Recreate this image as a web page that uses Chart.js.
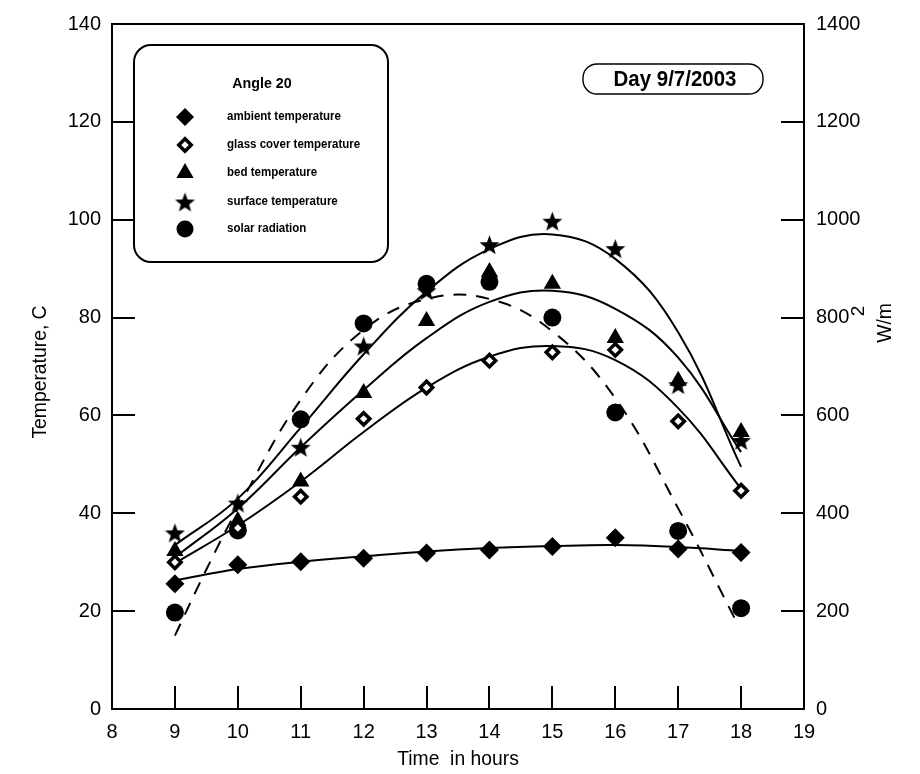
<!DOCTYPE html>
<html>
<head>
<meta charset="utf-8">
<title>Angle 20 - Day 9/7/2003</title>
<script src="https://cdn.jsdelivr.net/npm/chart.js@4.4.0/dist/chart.umd.min.js"></script>
<style>
  html, body { margin: 0; padding: 0; background: #fff; }
  #wrap { width: 920px; height: 774px; }
</style>
</head>
<body>
<div id="wrap"><canvas id="chart"></canvas></div>
<script>
// measured values (hour of day)
const hours = [9, 10, 11, 12, 13, 14, 15, 16, 17, 18];
const ambientTemp = [25.6, 29.5, 30.1, 30.8, 31.9, 32.5, 33.2, 35.0, 32.7, 32.0];
const glassTemp = [30.0, 37.0, 43.4, 59.3, 65.7, 71.2, 72.9, 73.4, 58.8, 44.6];
const bedTemp = [32.3, 38.4, 46.5, 64.6, 79.3, 89.3, 86.9, 75.8, 67.1, 56.6];
const surfaceTemp = [36.0, 42.1, 53.5, 74.2, 85.5, 94.9, 99.7, 94.1, 66.3, 54.9];
const solarRad = [197, 365, 592, 788, 869, 873, 800, 606, 364, 206];

// trend curves
const fitHours = [9, 10, 11, 12, 13, 14, 15, 16, 17, 18];
const ambientFit = [26.3, 28.6, 30.1, 31.2, 32.2, 32.9, 33.3, 33.5, 33.1, 32.3];
const glassFit = [29.8, 37.5, 46.5, 56.6, 65.7, 72.0, 74.2, 71.3, 61.5, 45.0];
const bedFit = [31.0, 41.0, 53.5, 65.2, 75.8, 83.2, 85.5, 81.8, 71.8, 52.5];
const surfaceFit = [33.5, 43.0, 57.5, 72.5, 85.3, 94.0, 97.0, 92.0, 77.0, 49.5];
const solarFitHours = [9, 9.5, 10, 11, 12, 13, 14, 15, 16, 17, 17.92];
const solarFit = [150, 285, 410, 632, 775, 838, 838, 772, 635, 410, 180];

// axis ticks
const hourTicks = [8, 9, 10, 11, 12, 13, 14, 15, 16, 17, 18, 19];
const tempTicks = [0, 20, 40, 60, 80, 100, 120, 140];
const radTicks = [0, 200, 400, 600, 800, 1000, 1200, 1400];

const FONT = "'Liberation Sans', Arial, Helvetica, sans-serif";
const TICK_LEN = 23;

const toPoints = (xs, ys) => xs.map((h, i) => ({ x: h, y: ys[i] }));

// filled five-point star used as a point style
function makeStar(size) {
    const c = document.createElement('canvas');
    c.width = c.height = size;
    const g = c.getContext('2d');
    const cx = size / 2, cy = size / 2 + size * 0.05;
    const R = size / 2, r = R * 0.42;
    g.beginPath();
    for (let i = 0; i < 10; i++) {
        const a = -Math.PI / 2 + i * Math.PI / 5;
        const rad = i % 2 ? r : R;
        g.lineTo(cx + rad * Math.cos(a), cy + rad * Math.sin(a));
    }
    g.closePath();
    g.fillStyle = '#000';
    g.fill();
    return c;
}
const starImg = makeStar(21);

function markerSet(label, values, style, extra) {
    return Object.assign({
        label: label,
        data: toPoints(hours, values),
        yAxisID: 'y',
        showLine: false,
        pointStyle: style,
        backgroundColor: '#000',
        borderColor: '#000',
        borderWidth: 0,
        order: 0
    }, extra);
}

function fitSet(xs, ys, extra) {
    return Object.assign({
        data: toPoints(xs, ys),
        yAxisID: 'y',
        showLine: true,
        pointRadius: 0,
        borderColor: '#000',
        borderWidth: 2,
        tension: 0.4,
        fill: false,
        order: 1
    }, extra);
}

// legend entries drawn inside the rounded box
const legendItems = [
    { text: 'ambient temperature', shape: 'diamond' },
    { text: 'glass cover temperature', shape: 'openDiamond' },
    { text: 'bed temperature', shape: 'triangle' },
    { text: 'surface temperature', shape: 'star' },
    { text: 'solar radiation', shape: 'circle' }
];

function drawMarker(ctx, shape, x, y) {
    ctx.save();
    ctx.fillStyle = '#000';
    ctx.strokeStyle = '#000';
    ctx.beginPath();
    if (shape === 'diamond') {
        const r = 9;
        ctx.moveTo(x, y - r); ctx.lineTo(x + r, y); ctx.lineTo(x, y + r); ctx.lineTo(x - r, y);
        ctx.closePath(); ctx.fill();
    } else if (shape === 'openDiamond') {
        const r = 6.2;
        ctx.moveTo(x, y - r); ctx.lineTo(x + r, y); ctx.lineTo(x, y + r); ctx.lineTo(x - r, y);
        ctx.closePath();
        ctx.fillStyle = '#fff'; ctx.fill();
        ctx.lineWidth = 3.5; ctx.stroke();
    } else if (shape === 'triangle') {
        const r = 10;
        ctx.moveTo(x, y - r);
        ctx.lineTo(x + r * 0.866, y + r / 2);
        ctx.lineTo(x - r * 0.866, y + r / 2);
        ctx.closePath(); ctx.fill();
    } else if (shape === 'star') {
        ctx.drawImage(starImg, x - starImg.width / 2, y - starImg.height / 2);
    } else {
        ctx.arc(x, y, 8.5, 0, Math.PI * 2); ctx.fill();
    }
    ctx.restore();
}

function roundRect(ctx, x, y, w, h, r) {
    ctx.beginPath();
    ctx.moveTo(x + r, y);
    ctx.lineTo(x + w - r, y);
    ctx.arcTo(x + w, y, x + w, y + r, r);
    ctx.lineTo(x + w, y + h - r);
    ctx.arcTo(x + w, y + h, x + w - r, y + h, r);
    ctx.lineTo(x + r, y + h);
    ctx.arcTo(x, y + h, x, y + h - r, r);
    ctx.lineTo(x, y + r);
    ctx.arcTo(x, y, x + r, y, r);
    ctx.closePath();
}

function narrowText(ctx, text, x, y, sx) {
    ctx.save();
    ctx.translate(x, y);
    ctx.scale(sx, 1);
    ctx.fillText(text, 0, 0);
    ctx.restore();
}

const frameAndNotes = {
    id: 'frameAndNotes',
    afterDraw(chart) {
        const ctx = chart.ctx;
        const { left, right, top, bottom } = chart.chartArea;
        const xs = chart.scales.x, ys = chart.scales.y, ys2 = chart.scales.y2;
        ctx.save();

        // frame and inward tick marks
        ctx.strokeStyle = '#000';
        ctx.lineWidth = 2;
        ctx.strokeRect(left, top, right - left, bottom - top);
        ctx.beginPath();
        hourTicks.forEach(v => {
            const px = Math.round(xs.getPixelForValue(v));
            ctx.moveTo(px, bottom); ctx.lineTo(px, bottom - TICK_LEN);
        });
        tempTicks.forEach(v => {
            const py = Math.round(ys.getPixelForValue(v));
            ctx.moveTo(left, py); ctx.lineTo(left + TICK_LEN, py);
        });
        radTicks.forEach(v => {
            const py = Math.round(ys2.getPixelForValue(v));
            ctx.moveTo(right, py); ctx.lineTo(right - TICK_LEN, py);
        });
        ctx.stroke();

        // axis titles
        ctx.fillStyle = '#000';
        ctx.textAlign = 'center';
        ctx.textBaseline = 'middle';
        ctx.font = '21px ' + FONT;
        narrowText(ctx, 'Time  in hours', (left + right) / 2, 759, 0.92);

        ctx.save();
        ctx.translate(40, 372);
        ctx.rotate(-Math.PI / 2);
        narrowText(ctx, 'Temperature, C', 0, 0, 0.92);
        ctx.restore();

        ctx.save();
        ctx.translate(885, 323);
        ctx.rotate(-Math.PI / 2);
        narrowText(ctx, 'W/m', 0, 0, 0.92);
        ctx.font = '19px ' + FONT;
        ctx.fillText('2', 12, -26);
        ctx.restore();

        // legend box
        ctx.lineWidth = 2;
        roundRect(ctx, 134, 45, 254, 217, 17);
        ctx.fillStyle = '#fff';
        ctx.fill();
        ctx.stroke();
        ctx.fillStyle = '#000';
        ctx.font = 'bold 15px ' + FONT;
        ctx.textAlign = 'center';
        narrowText(ctx, 'Angle 20', 262, 84, 0.95);
        ctx.font = 'bold 12px ' + FONT;
        ctx.textAlign = 'left';
        const rowY = [117, 145, 173, 202, 229];
        legendItems.forEach((item, i) => {
            drawMarker(ctx, item.shape, 185, rowY[i]);
            narrowText(ctx, item.text, 227, rowY[i], 0.96);
        });

        // date label
        ctx.lineWidth = 1.4;
        roundRect(ctx, 583, 64, 180, 30, 14);
        ctx.fillStyle = '#fff';
        ctx.fill();
        ctx.stroke();
        ctx.fillStyle = '#000';
        ctx.font = 'bold 22px ' + FONT;
        ctx.textAlign = 'center';
        narrowText(ctx, 'Day 9/7/2003', 675, 80, 0.93);

        ctx.restore();
    }
};

const plainTick = v => String(v);

const ctx = document.getElementById('chart').getContext('2d');
const chart = new Chart(ctx, {
    type: 'scatter',
    data: {
        datasets: [
            markerSet('ambient temperature', ambientTemp, 'rectRot', { pointRadius: 9.5 }),
            markerSet('glass cover temperature', glassTemp, 'rectRot', {
                pointRadius: 6.2, backgroundColor: '#fff', borderWidth: 3.5
            }),
            markerSet('bed temperature', bedTemp, 'triangle', { pointRadius: 10 }),
            markerSet('surface temperature', surfaceTemp, starImg, { pointRadius: 10 }),
            markerSet('solar radiation', solarRad, 'circle', { pointRadius: 9, yAxisID: 'y2' }),
            fitSet(fitHours, ambientFit),
            fitSet(fitHours, glassFit),
            fitSet(fitHours, bedFit),
            fitSet(fitHours, surfaceFit),
            fitSet(solarFitHours, solarFit, { yAxisID: 'y2', borderDash: [13, 10] })
        ]
    },
    options: {
        responsive: true,
        maintainAspectRatio: false,
        animation: false,
        events: [],
        layout: { padding: { top: 18, left: 0, right: 0, bottom: 0 } },
        plugins: {
            legend: { display: false },
            tooltip: { enabled: false }
        },
        scales: {
            x: {
                type: 'linear',
                min: 8,
                max: 19,
                afterBuildTicks: s => { s.ticks = hourTicks.map(v => ({ value: v })); },
                afterFit: s => { s.height = 65; },
                grid: { display: false, drawTicks: false },
                border: { display: false },
                ticks: { color: '#000', padding: 11, maxRotation: 0, callback: plainTick, font: { family: FONT, size: 20 } }
            },
            y: {
                position: 'left',
                min: 0,
                max: 140,
                afterBuildTicks: s => { s.ticks = tempTicks.map(v => ({ value: v })); },
                afterFit: s => { s.width = 112; },
                grid: { display: false, drawTicks: false },
                border: { display: false },
                ticks: { color: '#000', padding: 11, callback: plainTick, font: { family: FONT, size: 20 } }
            },
            y2: {
                position: 'right',
                min: 0,
                max: 1400,
                afterBuildTicks: s => { s.ticks = radTicks.map(v => ({ value: v })); },
                afterFit: s => { s.width = 116; },
                grid: { display: false, drawTicks: false },
                border: { display: false },
                ticks: { color: '#000', padding: 12, callback: plainTick, font: { family: FONT, size: 20 } }
            }
        }
    },
    plugins: [frameAndNotes]
});
</script>
</body>
</html>
